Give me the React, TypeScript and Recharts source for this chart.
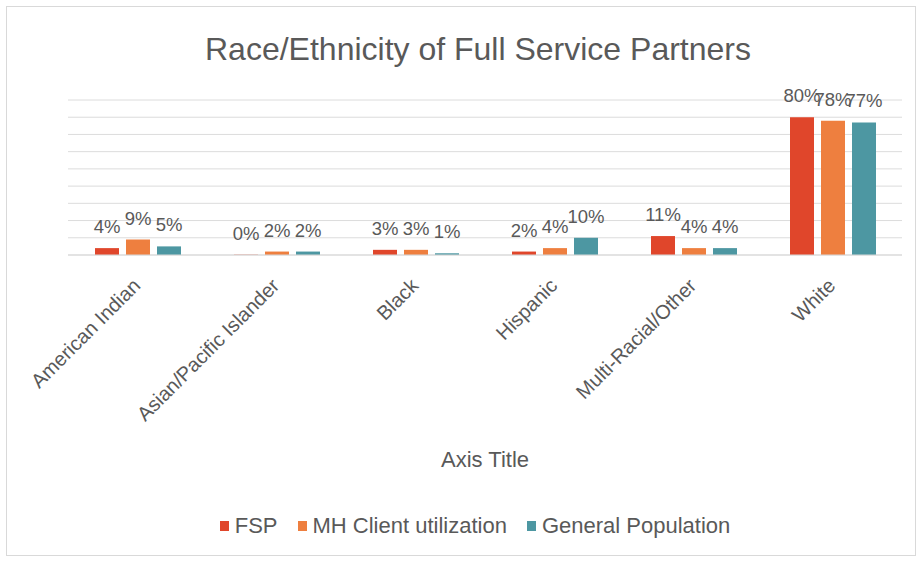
import React from 'react';
import { BarChart, Bar, XAxis, YAxis, CartesianGrid, Legend, LabelList, Label } from 'recharts';

const categories = ['American Indian', 'Asian/Pacific Islander', 'Black', 'Hispanic', 'Multi-Racial/Other', 'White'];
const fsp = [4, 0, 3, 2, 11, 80];
const mhClient = [9, 2, 3, 4, 4, 78];
const generalPop = [5, 2, 1, 10, 4, 77];
const yTicks = [0, 10, 20, 30, 40, 50, 60, 70, 80, 90];

const series = [
  { key: 'fsp', name: 'FSP', color: '#e0462b' },
  { key: 'mh', name: 'MH Client utilization', color: '#ee7f3f' },
  { key: 'gp', name: 'General Population', color: '#4d97a2' },
];

const data = categories.map((name, i) => ({
  name,
  fsp: fsp[i],
  mh: mhClient[i],
  gp: generalPop[i],
}));

const FONT = '"Liberation Sans", Arial, sans-serif';
const TEXT = '#595959';

// category labels rotated 45deg, ending at the category centre
const RotTick = (props: any) => {
  const { x, y, payload } = props;
  const ax = x + 4;
  const ay = y + 24;
  return (
    <text
      x={ax}
      y={ay}
      transform={`rotate(-45, ${ax}, ${ay})`}
      textAnchor="end"
      fontSize={20}
      fill={TEXT}
      fontFamily={FONT}
    >
      {payload.value}
    </text>
  );
};

const LegendBox = () => (
  <div style={{ display: 'flex', justifyContent: 'center', alignItems: 'center', fontFamily: FONT, fontSize: 22, color: TEXT, height: 28 }}>
    {series.map((s, i) => (
      <div key={s.key} style={{ display: 'flex', alignItems: 'center', marginLeft: i === 0 ? 0 : 20 }}>
        <span style={{ display: 'inline-block', width: 9, height: 10, background: s.color, marginRight: 6 }} />
        <span>{s.name}</span>
      </div>
    ))}
  </div>
);

const pct = (v: any) => `${v}%`;
const labelStyle = { fontSize: 18.5, fill: TEXT, fontFamily: FONT };

export default function App() {
  return (
    <div style={{ position: 'absolute', left: 0, top: 0, width: 918, height: 561, background: '#fff' }}>
      <div
        style={{
          position: 'absolute', left: 6, top: 6, width: 910, height: 550,
          border: '1px solid #d9d9d9', boxSizing: 'border-box',
        }}
      />
      <div
        style={{
          position: 'absolute', top: 31, left: 0, width: 956, textAlign: 'center',
          fontFamily: FONT, fontSize: 32, color: TEXT, lineHeight: 'normal',
        }}
      >
        Race/Ethnicity of Full Service Partners
      </div>
      <div style={{ position: 'absolute', left: 0, top: 0 }}>
        <BarChart
          width={918}
          height={561}
          data={data}
          margin={{ top: 100, right: 16, left: 68, bottom: 48 }}
          barGap={7}
          barSize={24}
        >
          <CartesianGrid vertical={false} stroke="#dcdcdc" />
          <YAxis hide domain={[0, 90]} ticks={yTicks} interval={0} />
          <XAxis
            dataKey="name"
            height={230}
            interval={0}
            axisLine={{ stroke: '#d9d9d9' }}
            tickLine={false}
            tick={<RotTick />}
          >
            <Label
              value="Axis Title"
              position="insideBottom"
              offset={18}
              style={{ fontSize: 22, fill: TEXT, fontFamily: FONT }}
            />
          </XAxis>
          <Legend
            content={<LegendBox />}
            wrapperStyle={{ top: 512, left: 0, width: 950 }}
          />
          {series.map((s) => (
            <Bar
              key={s.key}
              dataKey={s.key}
              name={s.name}
              fill={s.color}
              minPointSize={(v: number) => (v === 0 ? 0.3 : 0)}
              isAnimationActive={false}
            >
              <LabelList dataKey={s.key} position="top" offset={15} formatter={pct} style={labelStyle} />
            </Bar>
          ))}
        </BarChart>
      </div>
    </div>
  );
}
